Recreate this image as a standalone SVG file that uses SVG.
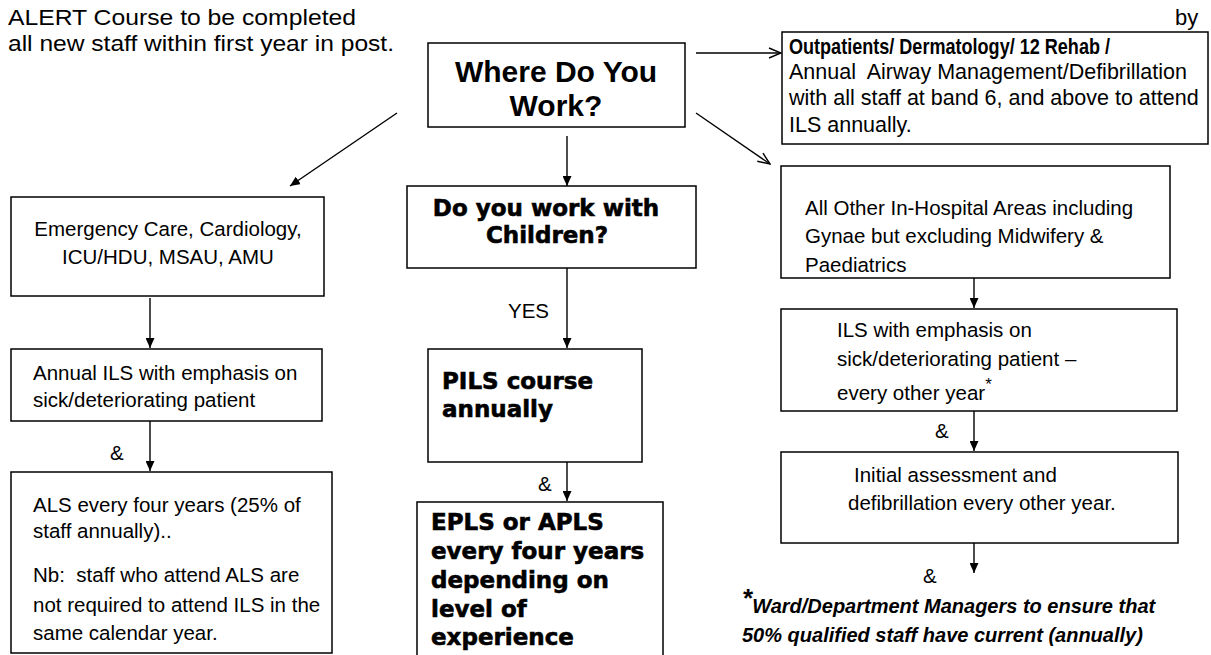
<svg xmlns="http://www.w3.org/2000/svg" width="1211" height="655" viewBox="0 0 1211 655">
<defs>
<style>
.bx{fill:#fff;stroke:#000;stroke-width:1.5}
.t{font-family:"Liberation Sans",Arial,sans-serif;font-size:20.5px;fill:#000}
.hd{font-family:"Liberation Sans",Arial,sans-serif;font-size:22px;fill:#000}
.op{font-family:"Liberation Sans",Arial,sans-serif;font-size:21.5px;fill:#000}
.wb{font-family:"Liberation Sans",Arial,sans-serif;font-size:30px;font-weight:bold;fill:#000}
.blk{font-family:"DejaVu Sans","Liberation Sans",sans-serif;font-weight:bold;font-size:23px;fill:#000;stroke:#000;stroke-width:0.6}
.fn{font-family:"Liberation Sans",Arial,sans-serif;font-size:20px;font-weight:bold;font-style:italic;fill:#000}
.c{fill:none;stroke:#000;stroke-width:1.4}
</style>
<marker id="ah" viewBox="0 0 10 9" refX="10" refY="4.5" markerWidth="10" markerHeight="9" markerUnits="userSpaceOnUse" orient="auto"><path d="M0,0 L10,4.5 L0,9 z" fill="#000"/></marker>
<marker id="av" viewBox="0 0 14 12" refX="13" refY="6" markerWidth="14" markerHeight="12" markerUnits="userSpaceOnUse" orient="auto"><path d="M1,1 L13,6 L1,11" fill="none" stroke="#000" stroke-width="1.4"/></marker>
</defs>
<rect width="1211" height="655" fill="#fff"/>

<g id="heading">
<text class="hd" x="8" y="25" textLength="348" lengthAdjust="spacingAndGlyphs">ALERT Course to be completed</text>
<text class="hd" x="8" y="51" textLength="386" lengthAdjust="spacingAndGlyphs">all new staff within first year in post.</text>
<text class="hd" x="1175" y="25">by</text>
</g>

<g id="connectors">
<line class="c" x1="696" y1="53" x2="781" y2="53" marker-end="url(#av)"/>
<line class="c" x1="397" y1="113" x2="290" y2="186" marker-end="url(#ah)"/>
<line class="c" x1="567" y1="136" x2="567" y2="186" marker-end="url(#ah)"/>
<line class="c" x1="696" y1="113" x2="770" y2="164" marker-end="url(#av)"/>
<line class="c" x1="150" y1="298" x2="150" y2="348" marker-end="url(#ah)"/>
<line class="c" x1="150" y1="421" x2="150" y2="471" marker-end="url(#ah)"/>
<line class="c" x1="567" y1="268" x2="567" y2="348" marker-end="url(#ah)"/>
<line class="c" x1="567" y1="462" x2="567" y2="501" marker-end="url(#ah)"/>
<line class="c" x1="974" y1="268" x2="974" y2="308" marker-end="url(#ah)"/>
<line class="c" x1="974" y1="411" x2="974" y2="451" marker-end="url(#ah)"/>
<line class="c" x1="974" y1="543" x2="974" y2="573" marker-end="url(#ah)"/>
<text class="t" x="110" y="460">&amp;</text>
<text class="t" x="508" y="318">YES</text>
<text class="t" x="538" y="491">&amp;</text>
<text class="t" x="935" y="438">&amp;</text>
<text class="t" x="923" y="583">&amp;</text>
</g>

<g id="where">
<rect class="bx" x="428" y="43" width="257" height="84"/>
<text class="wb" x="556" y="82" text-anchor="middle">Where Do You</text>
<text class="wb" x="556" y="116" text-anchor="middle">Work?</text>
</g>

<g id="outpatients">
<rect class="bx" x="782" y="32" width="426" height="112"/>
<text class="op" x="789" y="54" font-weight="bold" textLength="321" lengthAdjust="spacingAndGlyphs">Outpatients/ Dermatology/ 12 Rehab /</text>
<text class="op" x="789" y="79" xml:space="preserve">Annual  Airway Management/Defibrillation</text>
<text class="op" x="789" y="105">with all staff at band 6, and above to attend</text>
<text class="op" x="789" y="132">ILS annually.</text>
</g>

<g id="emergency">
<rect class="bx" x="11" y="197" width="313" height="99"/>
<text class="t" x="168" y="236" text-anchor="middle">Emergency Care, Cardiology,</text>
<text class="t" x="168" y="264" text-anchor="middle">ICU/HDU, MSAU, AMU</text>
</g>

<g id="annual-ils">
<rect class="bx" x="11" y="349" width="311" height="72"/>
<text class="t" x="33" y="380">Annual ILS with emphasis on</text>
<text class="t" x="33" y="407">sick/deteriorating patient</text>
</g>

<g id="als">
<rect class="bx" x="11" y="472" width="321" height="181"/>
<text class="t" x="33" y="512">ALS every four years (25% of</text>
<text class="t" x="33" y="538">staff annually)..</text>
<text class="t" x="33" y="582" xml:space="preserve">Nb:  staff who attend ALS are</text>
<text class="t" x="33" y="612">not required to attend ILS in the</text>
<text class="t" x="33" y="640">same calendar year.</text>
</g>

<g id="children">
<rect class="bx" x="407" y="186" width="289" height="82"/>
<text class="blk" x="546" y="216" text-anchor="middle" font-size="22">Do you work with</text>
<text class="blk" x="547" y="243" text-anchor="middle" font-size="22">Children?</text>
</g>

<g id="pils">
<rect class="bx" x="428" y="349" width="214" height="113"/>
<text class="blk" x="442" y="389">PILS course</text>
<text class="blk" x="442" y="417">annually</text>
</g>

<g id="epls">
<rect class="bx" x="417" y="502" width="246" height="160"/>
<text class="blk" x="431" y="530">EPLS or APLS</text>
<text class="blk" x="431" y="559">every four years</text>
<text class="blk" x="431" y="588">depending on</text>
<text class="blk" x="431" y="617">level of</text>
<text class="blk" x="431" y="645">experience</text>
</g>

<g id="other-areas">
<rect class="bx" x="781" y="166" width="389" height="112"/>
<text class="t" x="805" y="215">All Other In-Hospital Areas including</text>
<text class="t" x="805" y="243">Gynae but excluding Midwifery &amp;</text>
<text class="t" x="805" y="272">Paediatrics</text>
</g>

<g id="ils-other">
<rect class="bx" x="781" y="309" width="396" height="102"/>
<text class="t" x="837" y="337">ILS with emphasis on</text>
<text class="t" x="837" y="366">sick/deteriorating patient –</text>
<text class="t" x="837" y="400">every other year<tspan font-size="17" dy="-10">*</tspan></text>
</g>

<g id="initial">
<rect class="bx" x="781" y="452" width="397" height="91"/>
<text class="t" x="854" y="482">Initial assessment and</text>
<text class="t" x="848" y="510">defibrillation every other year.</text>
</g>

<g id="footnote">
<text class="fn" x="742" y="613"><tspan font-size="26" dy="-6">*</tspan><tspan dy="6">Ward/Department Managers to ensure that</tspan></text>
<text class="fn" x="742" y="642">50% qualified staff have current (annually)</text>
</g>
</svg>
